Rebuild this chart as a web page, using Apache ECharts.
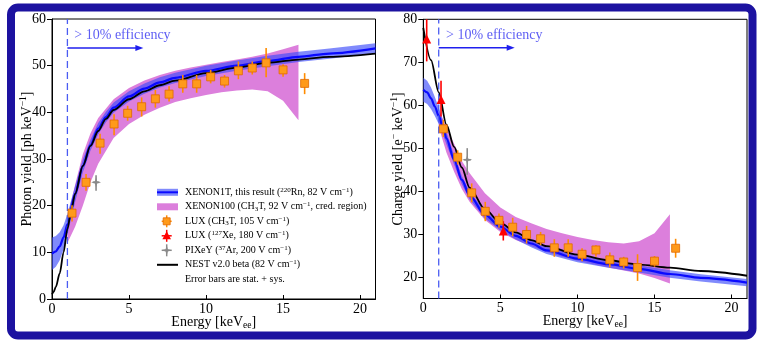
<!DOCTYPE html>
<html><head><meta charset="utf-8">
<script src="https://cdn.jsdelivr.net/npm/echarts@6/dist/echarts.min.js"></script>
<style>html,body{margin:0;padding:0;background:#fff}#c{width:760px;height:340px}</style>
</head><body><div id="c"></div>
<script>
// ---------- DATA ----------
// Left panel: photon yield
const L_blueE   = [0, 0.25, 0.5, 0.75, 1, 1.5, 2, 2.5, 3, 3.5, 4, 5, 6, 7, 8, 10, 12, 14, 16, 18, 21];
const L_blueY   = [9.7, 10.2, 11.3, 13.2, 16, 22.5, 28.5, 33, 36.5, 39, 41, 43.4, 45.1, 46.4, 47.4, 48.9, 50.0, 51.0, 51.9, 52.6, 53.7];
const L_blueErr = [3.5, 3.3, 3.0, 2.6, 2.2, 1.7, 1.4, 1.2, 1.2, 1.1, 1.1, 1.1, 1.1, 1.1, 1.1, 1.1, 1.1, 1.1, 1.1, 1.1, 1.1];
const L_pinkE   = [1.0, 1.5, 2, 2.5, 3, 4, 5, 6, 7, 8, 9, 10, 11, 12, 13, 14, 15, 16];
const L_pinkHi  = [17.5, 24.5, 31, 35.5, 38.8, 42.8, 45.2, 46.8, 48.0, 48.9, 49.6, 50.2, 50.8, 51.3, 51.9, 52.6, 53.5, 54.5];
const L_pinkLo  = [12, 15.5, 20, 25, 29, 34.5, 37.5, 39.5, 41, 42.2, 43, 43.7, 44.3, 44.7, 44.9, 44.5, 42.5, 38.3];
const L_nestE   = [0, 0.1, 0.25, 0.5, 0.75, 1, 1.25, 1.5, 2, 2.5, 3, 3.5, 4, 5, 6, 7, 8, 10, 12, 14, 16, 18, 21];
const L_nestY   = [1, 1.5, 2.6, 5.5, 10, 15, 19, 22.5, 28.5, 32.8, 36, 38.6, 40.5, 42.8, 44.5, 45.8, 46.8, 48.4, 49.6, 50.6, 51.3, 51.9, 52.6];
const L_luxE    = [1.3, 2.21, 3.12, 4.03, 4.91, 5.82, 6.71, 7.6, 8.49, 9.39, 10.3, 11.2, 12.1, 13.0, 13.9, 15.0, 16.4];
const L_luxY    = [18.4, 25.0, 33.4, 37.5, 39.8, 41.2, 42.9, 43.9, 46.1, 46.1, 47.6, 46.7, 48.9, 49.5, 50.6, 49.1, 46.2];
const L_luxLo   = [16.6, 23.2, 31.1, 35.1, 38.2, 39.1, 41.0, 42.3, 44.2, 44.2, 46.2, 45.3, 47.1, 48.1, 47.5, 47.6, 43.9];
const L_luxHi   = [20.1, 26.8, 35.4, 39.6, 41.4, 43.2, 44.8, 45.6, 48.0, 48.0, 49.1, 48.0, 50.9, 50.9, 53.8, 50.3, 48.4];
const L_pixE = [2.86], L_pixY = [25.0], L_pixLo = [23.2], L_pixHi = [26.5], L_pixXLo = [2.65], L_pixXHi = [3.07];

// Right panel: charge yield
const R_blueE   = [0, 0.25, 0.5, 0.75, 1, 1.3, 1.5, 2, 2.5, 3, 4, 5, 6, 7, 8, 10, 12, 14, 16, 18, 21];
const R_blueY   = [63.6, 63.0, 61.6, 59.7, 57.5, 54.5, 52.3, 47.3, 42.6, 39.0, 34.5, 31.7, 29.6, 27.8, 26.2, 24.3, 23.0, 21.9, 20.7, 19.8, 18.7];
const R_blueErr = [2.8, 2.7, 2.5, 2.2, 1.9, 1.6, 1.4, 1.1, 1.0, 0.9, 0.9, 0.85, 0.85, 0.85, 0.85, 0.85, 0.85, 0.85, 0.85, 0.85, 0.85];
const R_pinkE   = [1.0, 1.5, 2, 2.5, 3, 4, 5, 6, 7, 8, 9, 10, 11, 12, 13, 14, 15, 16];
const R_pinkHi  = [59, 55, 51, 47, 44.2, 39.5, 36.2, 34, 32.5, 31.2, 30.2, 29.3, 28.6, 28.1, 27.8, 28.3, 30.2, 34.6];
const R_pinkLo  = [55, 49, 44.5, 40.5, 37.5, 33.3, 30.5, 28.6, 27.2, 25.8, 24.7, 23.8, 23.0, 22.2, 21.5, 20.8, 19.8, 18.5];
const R_nestE   = [0, 0.5, 1, 1.5, 2, 2.5, 3, 4, 5, 6, 7, 8, 10, 12, 14, 16, 18, 21];
const R_nestY   = [78, 70.5, 63, 55.5, 50.3, 45.5, 40.8, 35.8, 32.6, 30.4, 28.6, 27.2, 25.2, 23.9, 22.9, 22.2, 21.4, 20.3];
const R_luxE    = [1.3, 2.23, 3.14, 4.02, 4.91, 5.8, 6.7, 7.61, 8.5, 9.4, 10.3, 11.2, 12.1, 13.0, 13.9, 15.0, 16.37];
const R_luxY    = [54.5, 47.9, 39.6, 35.3, 33.2, 31.6, 29.9, 28.9, 26.8, 26.8, 25.3, 26.3, 24.0, 23.5, 22.2, 23.7, 26.7];
const R_luxLo   = [52.6, 46.2, 37.4, 33.0, 31.5, 29.5, 27.8, 27.4, 24.7, 24.7, 23.7, 24.7, 22.2, 22.0, 19.1, 22.4, 24.5];
const R_luxHi   = [56.6, 49.5, 41.8, 37.5, 34.8, 33.8, 31.9, 30.5, 28.8, 28.8, 26.7, 27.4, 25.7, 24.7, 25.3, 24.9, 28.9];
const R_xeE  = [0.22, 1.15, 5.19];
const R_xeY  = [75.4, 61.3, 30.7];
const R_xeLo = [70.2, 57.4, 28.5];
const R_xeHi = [80, 65.7, 33.0];
const R_pixE = [2.85], R_pixY = [47.3], R_pixLo = [43.8], R_pixHi = [50.0], R_pixXLo = [2.62], R_pixXHi = [3.08];

const effE = 1, effArrowEnd = 5.93;
const L_arrowY = 53.8, R_arrowY = 73.4;
const L_textPos = [1.45, 56.4], R_textPos = [1.48, 76.2];
const effText = '> 10% efficiency';
const xTicks = [0, 5, 10, 15, 20];
const L_yTicks = [0, 10, 20, 30, 40, 50, 60];
const R_yTicks = [20, 30, 40, 50, 60, 70, 80];

const legendItems = [
  'XENON1T, this result ({sup|220}Rn, 82 V cm{sup|\u22121})',
  'XENON100 (CH{sub|3}T, 92 V cm{sup|\u22121}, cred. region)',
  'LUX (CH{sub|3}T, 105 V cm{sup|\u22121})',
  'LUX ({sup|127}Xe, 180 V cm{sup|\u22121})',
  'PIXeY ({sup|37}Ar, 200 V cm{sup|\u22121})',
  'NEST v2.0 beta (82 V cm{sup|\u22121})',
  'Error bars are stat. + sys.'
];

// ---------- STYLE ----------
const FONT = 'Liberation Serif';
const BLUE_BAND = 'rgba(60,75,250,0.65)';
const BLUE_LINE = '#0a0aff';
const PINK = '#dc7fdc';
const ORANGE = '#ff9a1a', ORANGE_D = '#e06800', ORANGE_E = '#ff8c00';
const RED = '#ff0000', GREY = '#8a8a8a';
const STAR = 'path://M0,-10 L2.2,-2.2 L10,0 L2.2,2.2 L0,10 L-2.2,2.2 L-10,0 L-2.2,-2.2 Z';

const richSmall = {
  sup: {fontSize: 7, fontFamily: FONT, color: '#000', padding: [0, 0, 5, 0]},
  sub: {fontSize: 7, fontFamily: FONT, color: '#000', padding: [4, 0, 0, 0]}
};
const richName = {
  sup: {fontSize: 9.5, fontFamily: FONT, color: '#000', padding: [0, 0, 7, 0]},
  sub: {fontSize: 9.5, fontFamily: FONT, color: '#000', padding: [6, 0, 0, 0]}
};

function zip(a, b) { return a.map((v, i) => [v, b[i]]); }

function bandSeries(xi, xs, lo, hi, color, z) {
  return {
    type: 'custom', xAxisIndex: xi, yAxisIndex: xi, silent: true, z: z,
    data: [[xs[0], lo[0]]],
    renderItem: function (p, api) {
      const pts = [];
      for (let i = 0; i < xs.length; i++) pts.push(api.coord([xs[i], hi[i]]));
      for (let i = xs.length - 1; i >= 0; i--) pts.push(api.coord([xs[i], lo[i]]));
      return {type: 'polygon', shape: {points: pts}, style: {fill: color}};
    }
  };
}
function errSeries(xi, xs, lo, hi, color, w, z) {
  return {
    type: 'custom', xAxisIndex: xi, yAxisIndex: xi, silent: true, z: z,
    data: xs.map((x, i) => [x, lo[i], hi[i]]),
    encode: {x: 0, y: [1, 2]},
    renderItem: function (p, api) {
      const a = api.coord([api.value(0), api.value(1)]);
      const b = api.coord([api.value(0), api.value(2)]);
      return {type: 'line', shape: {x1: a[0], y1: a[1], x2: b[0], y2: b[1]}, style: {stroke: color, lineWidth: w}};
    }
  };
}
function hErrSeries(xi, ys, xlo, xhi, color, w, z) {
  return {
    type: 'custom', xAxisIndex: xi, yAxisIndex: xi, silent: true, z: z,
    data: ys.map((y, i) => [xlo[i], xhi[i], y]),
    encode: {x: [0, 1], y: 2},
    renderItem: function (p, api) {
      const a = api.coord([api.value(0), api.value(2)]);
      const b = api.coord([api.value(1), api.value(2)]);
      return {type: 'line', shape: {x1: a[0], y1: a[1], x2: b[0], y2: b[1]}, style: {stroke: color, lineWidth: w}};
    }
  };
}
function lineSeries(xi, xs, ys, color, w, z) {
  return {type: 'line', xAxisIndex: xi, yAxisIndex: xi, data: zip(xs, ys), showSymbol: false, symbol: 'none',
    smooth: 0.3, smoothMonotone: 'x', silent: true, z: z, lineStyle: {color: color, width: w}};
}
function effSeries(xi, ymin, ymax, arrowY, textPos) {
  return [{
    type: 'line', xAxisIndex: xi, yAxisIndex: xi, data: [[effE, ymin], [effE, ymax]], symbol: 'none', silent: true, z: 3,
    lineStyle: {color: '#4a5cf2', width: 1.3, type: [7, 4]}
  }, {
    type: 'custom', xAxisIndex: xi, yAxisIndex: xi, silent: true, z: 7,
    data: [[effE, effArrowEnd, arrowY]],
    encode: {x: [0, 1], y: 2},
    renderItem: function (p, api) {
      const a = api.coord([api.value(0), api.value(2)]);
      const b = api.coord([api.value(1), api.value(2)]);
      return {type: 'group', children: [
        {type: 'line', shape: {x1: a[0], y1: a[1], x2: b[0] - 5, y2: b[1]}, style: {stroke: '#1f1fee', lineWidth: 1.5}},
        {type: 'polygon', shape: {points: [[b[0], b[1]], [b[0] - 8, b[1] - 3], [b[0] - 8, b[1] + 3]]}, style: {fill: '#1f1fee'}}
      ]};
    }
  }, {
    type: 'scatter', xAxisIndex: xi, yAxisIndex: xi, data: [textPos], symbolSize: 0, silent: true, z: 10,
    label: {show: true, position: 'right', distance: 0, formatter: effText, fontFamily: FONT, fontSize: 14, color: '#3535f0'}
  }];
}

function xAxisCfg(gi) {
  return {type: 'value', gridIndex: gi, min: 0, max: 21, interval: 5,
    name: 'Energy [keV{sub|ee}]', nameLocation: 'middle', nameGap: 15, nameMoveOverlap: false,
    nameTextStyle: {fontFamily: FONT, fontSize: 14, color: '#000', rich: richName},
    axisLine: {onZero: false, lineStyle: {color: '#000', width: 1}},
    axisTick: {inside: true, length: 4, lineStyle: {color: '#000'}, customValues: xTicks},
    axisLabel: {fontFamily: FONT, fontSize: 14, color: '#000', margin: 3, customValues: xTicks},
    splitLine: {show: false}};
}
function yAxisCfg(gi, min, max, name, ticks) {
  return {type: 'value', gridIndex: gi, min: min, max: max, interval: 10,
    name: name, nameLocation: 'middle', nameGap: 16.5, nameMoveOverlap: false,
    nameTextStyle: {fontFamily: FONT, fontSize: 14, color: '#000', rich: richName},
    axisLine: {onZero: false, lineStyle: {color: '#000', width: 1}},
    axisTick: {inside: false, length: 5, lineStyle: {color: '#000'}, customValues: ticks},
    axisLabel: {fontFamily: FONT, fontSize: 14, color: '#000', margin: 6, customValues: ticks},
    splitLine: {show: false}};
}

// ---------- LEGEND (graphic) ----------
const legX = 157, legTextX = 185, legY0 = 192.3, legDY = 14.5;
const legEls = [];
function ly(i) { return legY0 + i * legDY; }
legEls.push({type: 'rect', shape: {x: legX, y: ly(0) - 3.5, width: 21, height: 7}, style: {fill: BLUE_BAND}});
legEls.push({type: 'line', shape: {x1: legX, y1: ly(0), x2: legX + 21, y2: ly(0)}, style: {stroke: BLUE_LINE, lineWidth: 2}});
legEls.push({type: 'rect', shape: {x: legX, y: ly(1) - 3.5, width: 21, height: 7}, style: {fill: PINK}});
[[2, ORANGE_E], [3, RED], [4, GREY]].forEach(function (r) {
  const y = ly(r[0]);
  legEls.push({type: 'line', shape: {x1: 166.7, y1: y - 6, x2: 166.7, y2: y + 6}, style: {stroke: r[1], lineWidth: 1.5}});
  legEls.push({type: 'line', shape: {x1: 161.7, y1: y, x2: 171.7, y2: y}, style: {stroke: r[1], lineWidth: 1.5}});
});
legEls.push({type: 'rect', shape: {x: 163.2, y: ly(2) - 3.5, width: 7, height: 7}, style: {fill: ORANGE, stroke: ORANGE_D, lineWidth: 0.8}});
legEls.push({type: 'polygon', shape: {points: [[166.7, ly(3) - 4.5], [171, ly(3) + 3.5], [162.4, ly(3) + 3.5]]}, style: {fill: RED}});
(function () {
  const cx = 166.7, cy = ly(4), a = 5, b = 1.1;
  legEls.push({type: 'polygon', shape: {points: [[cx, cy - a], [cx + b, cy - b], [cx + a, cy], [cx + b, cy + b], [cx, cy + a], [cx - b, cy + b], [cx - a, cy], [cx - b, cy - b]]}, style: {fill: GREY}});
})();
legEls.push({type: 'line', shape: {x1: legX, y1: ly(5), x2: legX + 21, y2: ly(5)}, style: {stroke: '#000', lineWidth: 2}});
legendItems.forEach(function (t, i) {
  legEls.push({type: 'text', x: legTextX, y: ly(i), style: {text: t, fontFamily: FONT, fontSize: 10, fill: '#000',
    verticalAlign: 'middle', align: 'left', rich: richSmall}});
});

// ---------- OPTION ----------
const L_blueLo = L_blueY.map((v, i) => v - L_blueErr[i]);
const L_blueHi = L_blueY.map((v, i) => v + L_blueErr[i]);
const R_blueLo = R_blueY.map((v, i) => v - R_blueErr[i]);
const R_blueHi = R_blueY.map((v, i) => v + R_blueErr[i]);

const series = [].concat(
  [bandSeries(0, L_pinkE, L_pinkLo, L_pinkHi, PINK, 1),
   bandSeries(0, L_blueE, L_blueLo, L_blueHi, BLUE_BAND, 2),
   lineSeries(0, L_blueE, L_blueY, BLUE_LINE, 2.2, 3),
   lineSeries(0, L_nestE, L_nestY, '#000', 1.8, 4)],
  effSeries(0, 0, 60, L_arrowY, L_textPos),
  [errSeries(0, L_luxE, L_luxLo, L_luxHi, ORANGE_E, 1.6, 5),
   {type: 'scatter', xAxisIndex: 0, yAxisIndex: 0, data: zip(L_luxE, L_luxY), symbol: 'rect', symbolSize: 8, z: 6, silent: true,
    itemStyle: {color: ORANGE, borderColor: ORANGE_D, borderWidth: 0.8, opacity: 1}},
   errSeries(0, L_pixE, L_pixLo, L_pixHi, GREY, 1.6, 5),
   hErrSeries(0, L_pixY, L_pixXLo, L_pixXHi, GREY, 1.6, 5),
   {type: 'scatter', xAxisIndex: 0, yAxisIndex: 0, data: zip(L_pixE, L_pixY), symbol: STAR, symbolSize: 10, z: 6, silent: true,
    itemStyle: {color: GREY, opacity: 1}}],
  [bandSeries(1, R_pinkE, R_pinkLo, R_pinkHi, PINK, 1),
   bandSeries(1, R_blueE, R_blueLo, R_blueHi, BLUE_BAND, 2),
   lineSeries(1, R_blueE, R_blueY, BLUE_LINE, 2.2, 3),
   lineSeries(1, R_nestE, R_nestY, '#000', 1.8, 4)],
  effSeries(1, 15, 80, R_arrowY, R_textPos),
  [errSeries(1, R_luxE, R_luxLo, R_luxHi, ORANGE_E, 1.6, 5),
   {type: 'scatter', xAxisIndex: 1, yAxisIndex: 1, data: zip(R_luxE, R_luxY), symbol: 'rect', symbolSize: 8, z: 6, silent: true,
    itemStyle: {color: ORANGE, borderColor: ORANGE_D, borderWidth: 0.8, opacity: 1}},
   errSeries(1, R_xeE, R_xeLo, R_xeHi, RED, 1.6, 5),
   {type: 'scatter', xAxisIndex: 1, yAxisIndex: 1, data: zip(R_xeE, R_xeY), symbol: 'triangle', symbolSize: 9, z: 6, silent: true,
    itemStyle: {color: RED, opacity: 1}},
   errSeries(1, R_pixE, R_pixLo, R_pixHi, GREY, 1.6, 5),
   hErrSeries(1, R_pixY, R_pixXLo, R_pixXHi, GREY, 1.6, 5),
   {type: 'scatter', xAxisIndex: 1, yAxisIndex: 1, data: zip(R_pixE, R_pixY), symbol: STAR, symbolSize: 10, z: 6, silent: true,
    itemStyle: {color: GREY, opacity: 1}}]
);

const option = {
  animation: false,
  backgroundColor: '#fff',
  grid: [
    {left: 52, right: 384.5, top: 19, bottom: 41, show: true, borderColor: '#000', borderWidth: 1, backgroundColor: 'transparent'},
    {left: 423.3, right: 13, top: 19.3, bottom: 41.5, show: true, borderColor: '#000', borderWidth: 1, backgroundColor: 'transparent'}
  ],
  xAxis: [xAxisCfg(0), xAxisCfg(1)],
  yAxis: [
    yAxisCfg(0, 0, 60, 'Photon yield [ph keV{sup|\u22121}]', L_yTicks),
    yAxisCfg(1, 15, 80, 'Charge yield [e{sup|\u2212} keV{sup|\u22121}]', R_yTicks)
  ],
  series: series,
  graphic: [
    {type: 'group', children: legEls, z: 20},
    {type: 'rect', z: 30, silent: true, shape: {x: 11, y: 7.5, width: 741.5, height: 328, r: 7},
     style: {fill: 'none', stroke: '#1c12a0', lineWidth: 8}}
  ]
};
const chart = echarts.init(document.getElementById('c'));
chart.setOption(option);
</script></body></html>
